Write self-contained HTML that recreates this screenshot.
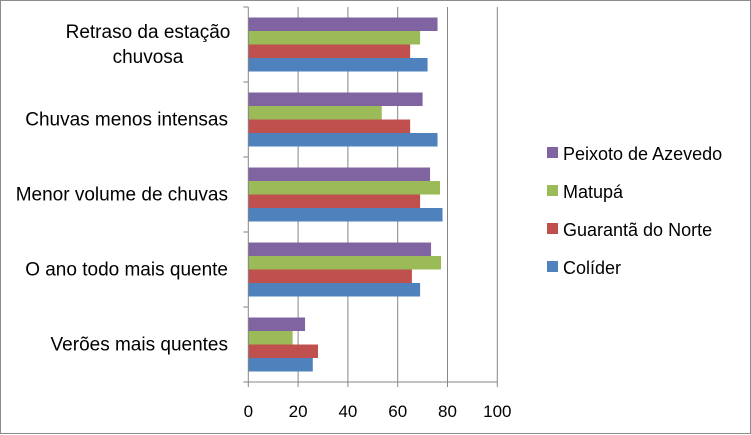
<!DOCTYPE html>
<html><head><meta charset="utf-8"><style>
body{margin:0;background:#fff}
svg{display:block;font-family:"Liberation Sans",sans-serif}
</style></head><body>
<svg id="c" width="751" height="435">
<rect x="0.5" y="0.5" width="750" height="433" fill="#fff" stroke="#8c8c8c"/>
<g id="grid"></g><g id="bars"></g><g id="axes"></g><g id="legend"></g>
</svg>
<script>
const categories=["Retraso da estação chuvosa","Chuvas menos intensas","Menor volume de chuvas","O ano todo mais quente","Verões mais quentes"];
const seriesNames=["Peixoto de Azevedo","Matupá","Guarantã do Norte","Colíder"];
const colors=["#8064a2","#9bbb59","#c0504d","#4f81bd"];
const peixoto=[76,70,73,73.4,22.8];
const matupa=[69,53.6,77,77.4,17.8];
const guaranta=[65,65,69,65.7,28];
const colider=[72,76,78,69,25.9];
const series=[peixoto,matupa,guaranta,colider];
const xTicks=[0,20,40,60,80,100];
const NS="http://www.w3.org/2000/svg";
const x0=248.3,x1=497.3,yTop=7,yBot=382;
const band=(yBot-yTop)/categories.length;
const xs=v=>x0+(x1-x0)*v/100;
function mk(t,a,p){const e=document.createElementNS(NS,t);for(const k in a)e.setAttribute(k,a[k]);p.appendChild(e);return e;}
const G=document.getElementById('grid'),B=document.getElementById('bars'),A=document.getElementById('axes'),L=document.getElementById('legend');
xTicks.forEach(t=>{
 if(t>0){const g=mk('line',{x1:xs(t),x2:xs(t),y1:yTop,y2:yBot,stroke:'#868686'},G);
 
 }
 const tk=mk('line',{x1:xs(t),x2:xs(t),y1:yBot,y2:yBot+5,stroke:'#868686'},A);
 
 
 const tl=mk('text',{x:xs(t),y:417,'text-anchor':'middle','font-size':17,fill:'#000'},A);
 tl.textContent=t;
 
 
});
const bh=13.5,pad=(band-4*bh)/2;
categories.forEach((c,i)=>{
 const by=yTop+i*band;
 series.forEach((s,j)=>{
  const r=mk('rect',{x:x0,y:by+pad+j*bh,width:xs(s[i])-x0,height:bh,fill:colors[j]},B);
  
  
 });
 const two=c==="Retraso da estação chuvosa";
 const words=two?["Retraso da estação","chuvosa"]:[c];
 const t=mk('text',{'font-size':19,fill:'#000'},A);
 
 
 words.forEach((w,k)=>{
  const ts=mk('tspan',{x:two?148:228,y:by+band/2+6+(two?(k-0.5)*25:0),'text-anchor':two?'middle':'end'},t);
  ts.textContent=w;
 });
});
for(let i=0;i<=categories.length;i++){
 const tk=mk('line',{x1:x0-5,x2:x0,y1:yTop+i*band,y2:yTop+i*band,stroke:'#868686'},A);
 
 
}
const ax=mk('line',{x1:x0,x2:x0,y1:yTop,y2:yBot,stroke:'#868686'},A);


const axx=mk('line',{x1:x0,x2:x1,y1:yBot,y2:yBot,stroke:'#868686'},A);


const ly=[153,191,229,267];
seriesNames.forEach((n,j)=>{
 const g=mk('g',{},L);
 
 
 mk('rect',{x:547,y:ly[j]-6,width:11,height:11,fill:colors[j]},g);
 const t=mk('text',{x:563,y:ly[j]+7,'font-size':18,fill:'#000'},g);
 t.textContent=n;
});
</script>
</body></html>
